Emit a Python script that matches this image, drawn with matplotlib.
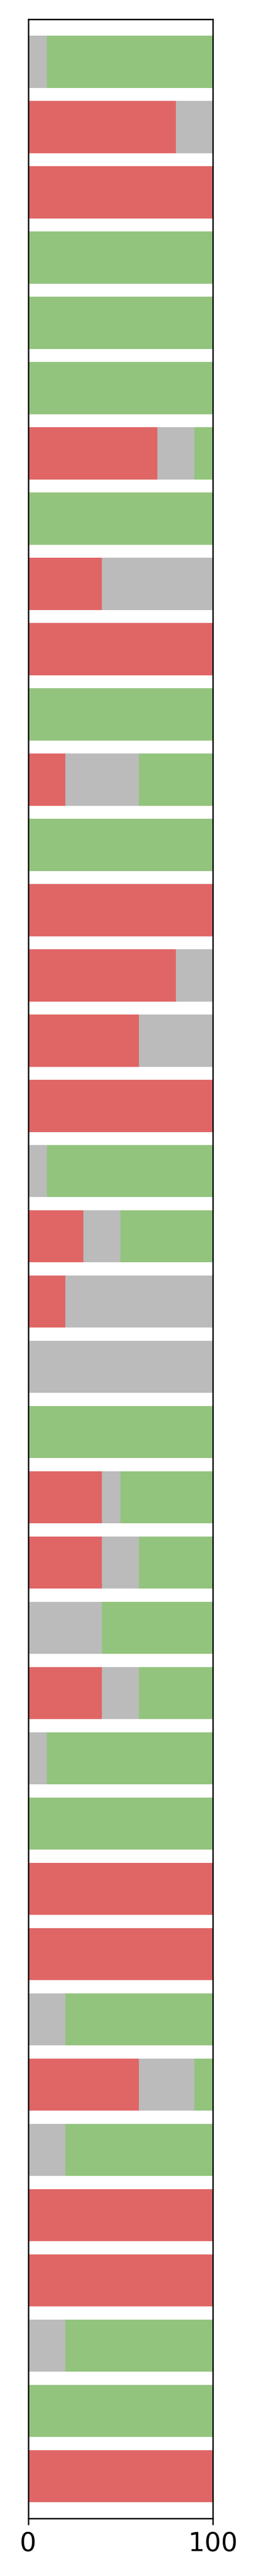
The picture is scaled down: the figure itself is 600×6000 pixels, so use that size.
import numpy as np
import matplotlib
matplotlib.use('Agg')
import matplotlib.pyplot as plt

# share of each row, top row first: red / grey / green
red = [0, 80, 100, 0, 0, 0, 70, 0, 40, 100, 0, 20, 0, 100, 80, 60, 100, 0, 30,
       20, 0, 0, 40, 40, 0, 40, 0, 0, 100, 100, 0, 60, 0, 100, 100, 0, 0, 100]
grey = [10, 20, 0, 0, 0, 0, 20, 0, 60, 0, 0, 40, 0, 0, 20, 40, 0, 10, 20,
        80, 100, 0, 10, 20, 40, 20, 10, 0, 0, 0, 20, 30, 20, 0, 0, 20, 0, 0]
green = [90, 0, 0, 100, 100, 100, 10, 100, 0, 0, 100, 40, 100, 0, 0, 0, 0, 90, 50,
         0, 0, 100, 50, 40, 60, 40, 90, 100, 0, 0, 80, 10, 80, 0, 0, 80, 100, 0]

red = np.array(red)
grey = np.array(grey)
green = np.array(green)
y = np.arange(len(red))

fig = plt.figure(figsize=(2, 20), dpi=300)
ax = fig.add_axes([0.1095, 0.02227, 0.7155, 0.97023])

ax.barh(y, red, height=0.8, color='#E06666')
ax.barh(y, grey, left=red, height=0.8, color='#BBBBBB')
ax.barh(y, green, left=red + grey, height=0.8, color='#93C47D')

ax.set_xlim(0, 100)
ax.set_ylim(-0.65, len(red) - 1 + 0.65)
ax.invert_yaxis()
ax.set_xticks([0, 100])
ax.set_yticks([])
ax.tick_params(axis='x', labelsize=14.5)

fig.savefig('out.png', dpi=300)
